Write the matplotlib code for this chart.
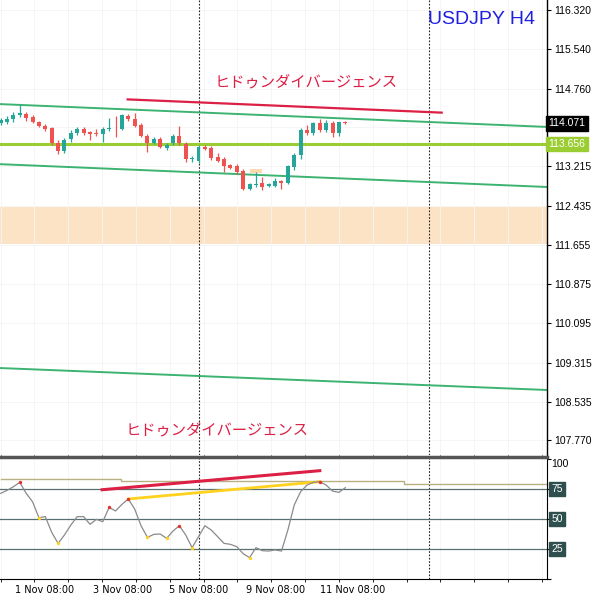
import matplotlib
matplotlib.use("Agg")
import matplotlib.pyplot as plt
from matplotlib.ticker import MultipleLocator, FixedLocator
import numpy as np

# ---------------- data ----------------
opens = [114.067, 114.100, 114.160, 114.233, 114.253, 114.187, 114.087, 114.014, 113.968, 113.683,
         113.517, 113.749, 113.868, 113.948, 113.895, 113.882, 113.855, 113.948, 113.981, 113.948,
         114.220, 114.160, 114.034, 113.815, 113.683, 113.749, 113.570, 113.683, 113.815, 113.656,
         113.352, 113.325, 113.603, 113.577, 113.405, 113.352, 113.232, 113.219, 113.126, 112.762,
         112.841, 112.888, 112.821, 112.821, 112.921, 112.888, 113.206, 113.438, 113.935, 113.868,
         114.067, 113.935, 114.081, 113.868, 114.094]
highs = [114.167, 114.213, 114.299, 114.432, 114.299, 114.233, 114.114, 114.047, 113.988, 113.736,
         113.769, 113.935, 113.988, 114.001, 113.922, 113.948, 113.988, 114.167, 114.213, 114.253,
         114.253, 114.279, 114.067, 113.855, 113.789, 113.802, 113.683, 113.849, 114.014, 113.703,
         113.418, 113.637, 113.637, 113.617, 113.471, 113.405, 113.259, 113.259, 113.153, 112.888,
         113.106, 112.994, 112.888, 112.974, 112.941, 113.239, 113.471, 113.968, 114.034, 114.100,
         114.147, 114.134, 114.120, 114.100, 114.107]
lows = [114.034, 114.047, 114.100, 114.200, 114.120, 114.067, 113.988, 113.922, 113.637, 113.458,
        113.471, 113.703, 113.842, 113.835, 113.736, 113.815, 113.703, 113.922, 113.802, 113.935,
        114.120, 113.988, 113.789, 113.504, 113.656, 113.570, 113.537, 113.637, 113.637, 113.292,
        113.305, 113.285, 113.537, 113.338, 113.305, 113.106, 113.153, 113.073, 112.742, 112.742,
        112.808, 112.742, 112.795, 112.795, 112.775, 112.861, 113.140, 113.352, 113.835, 113.835,
        113.902, 113.902, 113.802, 113.815, 114.054]
closes = [114.134, 114.160, 114.240, 114.266, 114.167, 114.087, 114.014, 113.948, 113.683, 113.524,
          113.736, 113.882, 113.948, 113.868, 113.862, 113.849, 113.948, 113.974, 113.968, 114.233,
          114.147, 114.021, 113.815, 113.683, 113.762, 113.590, 113.637, 113.815, 113.670, 113.358,
          113.371, 113.603, 113.564, 113.371, 113.325, 113.219, 113.173, 113.106, 112.775, 112.855,
          112.861, 112.808, 112.855, 112.927, 112.894, 113.219, 113.438, 113.935, 113.868, 114.067,
          113.935, 114.081, 113.868, 114.087, 114.067]

osc = [71.4, 73.9, 76.9, 80.6, 71.4, 64.4, 51.1, 52.0, 38.9, 29.7,
       36.7, 45.0, 52.0, 52.0, 45.6, 49.7, 47.8, 59.7, 56.7, 62.2,
       66.7, 58.3, 44.4, 34.7, 37.2, 37.5, 33.9, 40.0, 44.4, 36.7,
       26.1, 35.3, 44.4, 40.8, 35.3, 29.7, 28.9, 26.9, 21.1, 17.8,
       26.1, 23.6, 23.3, 24.2, 23.3, 40.8, 61.7, 72.8, 78.3, 80.6,
       81.1, 78.3, 73.3, 72.2, 76.1]
osc_red_dots = [3, 17, 20, 28, 50]
osc_yellow_dots = [6, 9, 23, 26, 30, 39]

# guide line levels
support_level = 113.656
last_price = 114.071
zone_low, zone_high = 111.672, 112.413
channel_x = [0, 85.6]
channel_top = [114.451, 113.998]
channel_mid = [113.258, 112.805]
channel_low = [109.209, 108.773]
div_price_x = [19.9, 69.1]
div_price_y = [114.545, 114.282]
div_osc_red_x = [15.9, 50.0]
div_osc_red_y = [74.4, 90.3]
div_osc_yel_x = [20, 50]
div_osc_yel_y = [66.7, 81.1]
olive_x = [0, 18.8, 63.2, 85.7]
olive_y = [83.3, 81.5, 79.4, 79.4]
marker_box = (39.0, 41.0, 113.087, 113.153)

price_ticks = [116.320, 115.540, 114.760, 113.995, 113.215, 112.435, 111.655,
               110.875, 110.095, 109.315, 108.535, 107.770]
hidden_tick = 113.995
osc_levels = [75, 50, 25]
time_tick_pos = [6.9, 19.1, 31.0, 43.1, 55.2]
time_tick_labels = ["1 Nov 08:00", "3 Nov 08:00", "5 Nov 08:00", "9 Nov 08:00", "11 Nov 08:00"]
vline_pos = [31.0, 67.1]

title = "USDJPY H4"
annot = "ヒドゥンダイバージェンス"

# ---------------- figure ----------------
W, H = 592, 598
fig = plt.figure(figsize=(W / 100, H / 100), dpi=100)
fig.patch.set_facecolor("white")
ax = fig.add_axes([0, 143 / H, 547 / W, 455 / H])
ax2 = fig.add_axes([0, 19 / H, 547 / W, 122 / H])

XMIN, XMAX = -0.1, 85.6
JP = ["Noto Sans CJK JP", "DejaVu Sans"]
LAB = ["Liberation Sans", "DejaVu Sans"]
RED = "#ef5350"
GREEN = "#26a69a"
CRIMSON = "#dc1f45"
CH_GREEN = "#3cb371"

# main panel
ax.set_xlim(XMIN, XMAX)
ax.set_ylim(107.482, 116.519)
for s in ["left", "top", "bottom"]:
    ax.spines[s].set_visible(False)
ax.spines["right"].set_color("black")
ax.spines["right"].set_linewidth(1.0)
ax.yaxis.tick_right()
ax.yaxis.set_major_locator(FixedLocator(price_ticks))
ax.set_yticklabels(["" if v == hidden_tick else f"{v:.3f}" for v in price_ticks],
                   fontfamily=LAB, fontsize=7.5)
ax.tick_params(axis="y", length=3, width=0.8, pad=2, colors="black")
ax.set_xticks([])
ax.xaxis.set_minor_locator(MultipleLocator(5.3))
ax.grid(True, which="minor", axis="x", color="#f4f4f4", lw=0.6)
ax.grid(True, which="major", axis="y", color="#f4f4f4", lw=0.6)
ax.set_axisbelow(True)

ax.axhspan(zone_low, zone_high, color="#fde3c6", lw=0, zorder=0.5)

ax.plot(channel_x, channel_top, color=CH_GREEN, lw=1.4, zorder=2)
ax.plot(channel_x, channel_mid, color=CH_GREEN, lw=1.4, zorder=2)
ax.plot(channel_x, channel_low, color=CH_GREEN, lw=1.4, zorder=2)
ax.axhline(support_level, color="#9acd32", lw=2.2, zorder=2.5)
ax.plot(div_price_x, div_price_y, color=CRIMSON, lw=1.6, zorder=3)

bx0, bx1, by0, by1 = marker_box
ax.add_patch(plt.Rectangle((bx0, by0), bx1 - bx0, by1 - by0, color="#fcd9ae", lw=0, zorder=2))

idx = np.arange(len(opens))
o = np.array(opens); c = np.array(closes)
cols = [GREEN if cc >= oo else RED for oo, cc in zip(o, c)]
ax.vlines(idx, lows, highs, colors=cols, lw=0.9, zorder=3)
bottoms = np.minimum(o, c)
heights = np.maximum(np.abs(c - o), 0.012)
ax.bar(idx, heights, bottom=bottoms, width=0.62, color=cols, lw=0, zorder=4)

for xv in vline_pos:
    ax.axvline(xv, color="#222222", lw=0.8, ls=(0, (1.5, 1.5)), zorder=1)
    ax2.axvline(xv, color="#222222", lw=0.8, ls=(0, (1.5, 1.5)), zorder=1)

ax.text(47.8, 114.89, annot, color=CRIMSON, fontsize=11, family=JP, ha="center", va="center")
ax.text(33.9, 107.98, annot, color=CRIMSON, fontsize=11, family=JP, ha="center", va="center")
ax.text(0.782, 0.957, title, transform=ax.transAxes, color="#1f1fe0", fontsize=14,
        family=LAB, ha="left", va="center")

tr = ax.get_yaxis_transform()
ax.text(1.003, last_price, f"{last_price:.3f}", transform=tr, color="white", fontsize=7.5,
        family=LAB, ha="left", va="center", clip_on=False, zorder=10,
        bbox=dict(boxstyle="square,pad=0.22", fc="black", ec="black"))
ax.text(1.003, support_level, f"{support_level:.3f}", transform=tr, color="white", fontsize=7.5,
        family=LAB, ha="left", va="center", clip_on=False, zorder=10,
        bbox=dict(boxstyle="square,pad=0.22", fc="#9acd32", ec="#9acd32"))

# oscillator panel
ax2.set_xlim(XMIN, XMAX)
ax2.set_ylim(0, 101.7)
ax2.spines["left"].set_visible(False)
ax2.spines["top"].set_color("#555555")
ax2.spines["top"].set_linewidth(2.5)
ax2.spines["bottom"].set_color("black")
ax2.spines["right"].set_color("black")
ax2.yaxis.tick_right()
ax2.set_yticks([0, 25, 50, 75, 100])
ax2.set_yticklabels(["", "", "", "", ""])
ax2.tick_params(axis="y", length=3, width=0.8)
ax2.set_xticks(time_tick_pos)
ax2.set_xticklabels(time_tick_labels)
ax2.tick_params(axis="x", length=0, labelsize=7, pad=4)
ax2.xaxis.set_minor_locator(MultipleLocator(5.3))
ax2.grid(True, which="minor", axis="x", color="#f4f4f4", lw=0.6)
ax2.set_axisbelow(True)

for lv in osc_levels:
    ax2.axhline(lv, color="#5a7070", lw=0.9, zorder=1.5)
ax2.step(olive_x, olive_y, where="post", color="#b8b080", lw=1.0, zorder=1.6)

ax2.plot(div_osc_red_x, div_osc_red_y, color=CRIMSON, lw=2.2, zorder=3)
ax2.plot(div_osc_yel_x, div_osc_yel_y, color="#ffd21f", lw=2.0, zorder=3)
ax2.plot(idx, osc, color="#8a8a8a", lw=0.9, zorder=4)
ax2.scatter(osc_red_dots, [osc[i] for i in osc_red_dots], s=6, color="#e8302a", zorder=5, lw=0)
ax2.scatter(osc_yellow_dots, [osc[i] for i in osc_yellow_dots], s=6, color="#ffd21f", zorder=5, lw=0)

tr2 = ax2.get_yaxis_transform()
ax2.text(1.008, 100, "100", transform=tr2, fontsize=7.5, family=LAB, ha="left", va="top", clip_on=False)
for lv in osc_levels:
    ax2.text(1.008, lv, str(lv), transform=tr2, color="white", fontsize=7.5, family=LAB,
             ha="left", va="center", clip_on=False,
             bbox=dict(boxstyle="square,pad=0.2", fc="#2f4f4f", ec="#2f4f4f"))

fig.savefig("out.png", dpi=100)
